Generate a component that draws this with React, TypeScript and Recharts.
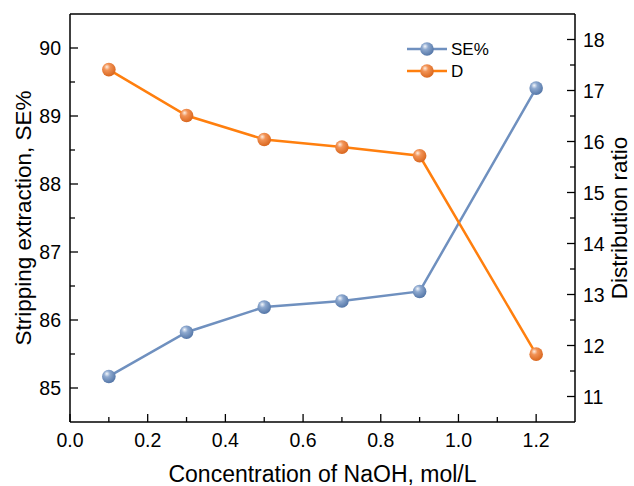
import React from 'react';
import { LineChart, Line, XAxis, YAxis, ReferenceLine } from 'recharts';

const concentration = [0.1, 0.3, 0.5, 0.7, 0.9, 1.2];
const sePercent = [85.17, 85.82, 86.19, 86.28, 86.42, 89.41];
const distRatio = [17.41, 16.51, 16.04, 15.89, 15.72, 11.83];

const xTicks = [0, 0.1, 0.2, 0.3, 0.4, 0.5, 0.6, 0.7, 0.8, 0.9, 1.0, 1.1, 1.2];
const leftTicks = [85, 85.5, 86, 86.5, 87, 87.5, 88, 88.5, 89, 89.5, 90];
const rightTicks = [11, 11.5, 12, 12.5, 13, 13.5, 14, 14.5, 15, 15.5, 16, 16.5, 17, 17.5, 18];

const data = concentration.map((c, i) => ({ c, se: sePercent[i], d: distRatio[i] }));

const BLUE = '#6f90bf';
const ORANGE = '#ff7f0e';
const FONT = '"Liberation Sans", Arial, sans-serif';
const MAJOR = 8;
const MINOR = 5;
const MARGIN = 9;

const isMajor = (v: number, step: number) => Math.abs(v / step - Math.round(v / step)) < 1e-6;

const XTick = ({ x, y, payload }: any) => {
  const v = payload.value;
  const major = isMajor(v, 0.2);
  const axisY = y - MARGIN;
  return (
    <g>
      <line x1={x} x2={x} y1={axisY} y2={axisY - (major ? MAJOR : MINOR)} stroke="#000" strokeWidth={1.3} />
      {major && (
        <text x={x} y={axisY + 25} textAnchor="middle" fontSize={19.5} fontFamily={FONT} fill="#000">
          {v.toFixed(1)}
        </text>
      )}
    </g>
  );
};

const LeftTick = ({ x, y, payload }: any) => {
  const v = payload.value;
  const major = isMajor(v, 1);
  const axisX = x + MARGIN;
  return (
    <g>
      <line x1={axisX} x2={axisX + (major ? MAJOR : MINOR)} y1={y} y2={y} stroke="#000" strokeWidth={1.3} />
      {major && (
        <text x={axisX - 9} y={y + 7} textAnchor="end" fontSize={19.5} fontFamily={FONT} fill="#000">
          {v}
        </text>
      )}
    </g>
  );
};

const RightTick = ({ x, y, payload }: any) => {
  const v = payload.value;
  const major = isMajor(v, 1);
  const axisX = x - MARGIN;
  return (
    <g>
      <line x1={axisX} x2={axisX - (major ? MAJOR : MINOR)} y1={y} y2={y} stroke="#000" strokeWidth={1.3} />
      {major && (
        <text x={axisX + 8} y={y + 7} textAnchor="start" fontSize={19.5} fontFamily={FONT} fill="#000">
          {v}
        </text>
      )}
    </g>
  );
};

const makeDot = (grad: string) => (props: any) => {
  const { cx, cy, index } = props;
  if (cx == null || cy == null) return <g key={`n-${index}`} />;
  return <circle key={`${grad}-${index}`} cx={cx} cy={cy} r={6.8} fill={`url(#${grad})`} />;
};

const Gradients = ({ suffix }: { suffix: string }) => (
  <defs>
    <radialGradient id={`gBlue${suffix}`} cx="40%" cy="35%" r="65%" fx="35%" fy="30%">
      <stop offset="0%" stopColor="#f4f7fb" />
      <stop offset="35%" stopColor="#8ea9cf" />
      <stop offset="100%" stopColor="#5577a8" />
    </radialGradient>
    <radialGradient id={`gOrange${suffix}`} cx="40%" cy="35%" r="65%" fx="35%" fy="30%">
      <stop offset="0%" stopColor="#fdeee2" />
      <stop offset="35%" stopColor="#f29356" />
      <stop offset="100%" stopColor="#d9671f" />
    </radialGradient>
  </defs>
);

const legendItems = [
  { name: 'SE%', color: BLUE, grad: 'gBlueL' },
  { name: 'D', color: ORANGE, grad: 'gOrangeL' },
];

const LegendBox = () => (
  <svg width={90} height={50} style={{ position: 'absolute', left: 406, top: 37 }}>
    <Gradients suffix="L" />
    {legendItems.map((s, i) => (
      <g key={s.name} transform={`translate(0, ${12 + i * 22})`}>
        <line x1={1} x2={41} y1={0} y2={0} stroke={s.color} strokeWidth={2.5} />
        <circle cx={21} cy={0} r={6.8} fill={`url(#${s.grad})`} />
        <text x={45} y={6} fontSize={17} fontFamily={FONT} fill="#000">
          {s.name}
        </text>
      </g>
    ))}
  </svg>
);

const LeftTitle = ({ viewBox }: any) => {
  const cy = viewBox.y + viewBox.height / 2;
  return (
    <text x={23} y={cy} transform={`rotate(-90, 23, ${cy})`} textAnchor="middle" dominantBaseline="central"
      fontSize={22.5} fontFamily={FONT} fill="#000">
      Stripping extraction, SE%
    </text>
  );
};

const RightTitle = ({ viewBox }: any) => {
  const cy = viewBox.y + viewBox.height / 2;
  return (
    <text x={619} y={cy} transform={`rotate(-90, 619, ${cy})`} textAnchor="middle" dominantBaseline="central"
      fontSize={22.5} fontFamily={FONT} fill="#000">
      Distribution ratio
    </text>
  );
};

export default function App() {
  return (
    <div style={{ position: 'absolute', left: 0, top: 0, width: 634, height: 486, background: '#fff' }}>
      <LineChart width={634} height={486} data={data} margin={{ top: 14, right: 0, bottom: 0, left: 0 }}>
        <Gradients suffix="" />
        <XAxis
          dataKey="c"
          type="number"
          domain={[0, 1.3]}
          ticks={xTicks}
          interval={0}
          tickSize={0}
          tickMargin={MARGIN}
          tick={<XTick />}
          axisLine={{ stroke: '#000', strokeWidth: 1.5 }}
          height={64}
          label={{
            value: 'Concentration of NaOH, mol/L',
            position: 'insideBottom',
            offset: 4,
            style: { fontSize: 23, fontFamily: FONT, fill: '#000' },
          }}
        />
        <YAxis
          yAxisId="left"
          type="number"
          domain={[84.5, 90.5]}
          ticks={leftTicks}
          interval={0}
          tickSize={0}
          tickMargin={MARGIN}
          tick={<LeftTick />}
          axisLine={{ stroke: '#000', strokeWidth: 1.5 }}
          width={70}
          label={{ content: <LeftTitle /> }}
        />
        <YAxis
          yAxisId="right"
          orientation="right"
          type="number"
          domain={[10.5, 18.5]}
          ticks={rightTicks}
          interval={0}
          tickSize={0}
          tickMargin={MARGIN}
          tick={<RightTick />}
          axisLine={{ stroke: '#000', strokeWidth: 1.5 }}
          width={59}
          label={{ content: <RightTitle /> }}
        />
        <ReferenceLine yAxisId="left" y={90.5} stroke="#000" strokeWidth={1.5} />
        <Line
          yAxisId="left"
          dataKey="se"
          name="SE%"
          stroke={BLUE}
          strokeWidth={2.5}
          dot={makeDot('gBlue')}
          activeDot={false}
          isAnimationActive={false}
        />
        <Line
          yAxisId="right"
          dataKey="d"
          name="D"
          stroke={ORANGE}
          strokeWidth={2.5}
          dot={makeDot('gOrange')}
          activeDot={false}
          isAnimationActive={false}
        />
      </LineChart>
      <LegendBox />
    </div>
  );
}
